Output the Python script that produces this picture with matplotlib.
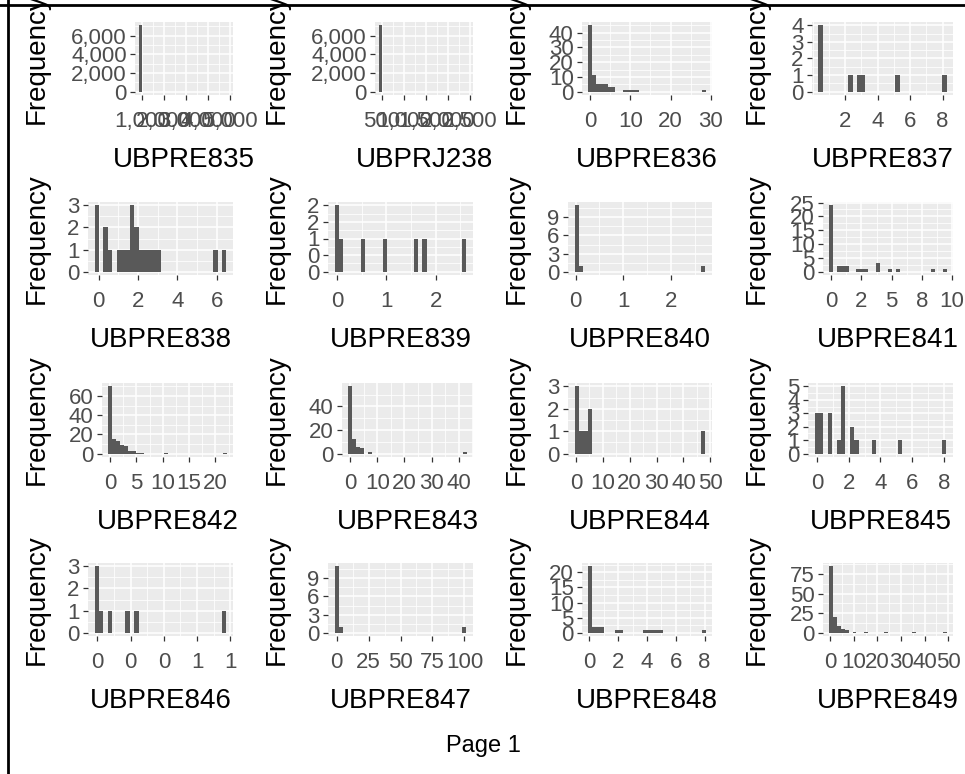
import numpy as np
import matplotlib
matplotlib.use("Agg")
import matplotlib.pyplot as plt
from matplotlib.lines import Line2D
from matplotlib.ticker import AutoMinorLocator

plt.rcParams['font.family'] = ['Liberation Sans', 'DejaVu Sans']

W, H = 965, 774

# variable names, one per panel (row by row)
names = ["UBPRE835", "UBPRJ238", "UBPRE836", "UBPRE837",
         "UBPRE838", "UBPRE839", "UBPRE840", "UBPRE841",
         "UBPRE842", "UBPRE843", "UBPRE844", "UBPRE845",
         "UBPRE846", "UBPRE847", "UBPRE848", "UBPRE849"]

# data range of each histogram (30 bins between lo and hi)
bin_lo = [880, 440, -0.5, 0.35,
          -0.2, -0.05, -0.02, -0.2,
          -0.4, -0.8, -0.5, -0.15,
          -0.02, -1.5, -0.1, -0.5]
bin_hi = [4930, 2465, 28.8, 8.25,
          6.5, 2.62, 2.72, 9.6,
          22.2, 43.1, 48.2, 8.16,
          0.97, 101.5, 8.1, 49.5]

# bin counts
c835 = [7100, 0, 0, 0, 0, 0, 0, 0, 0, 0, 0, 0, 0, 0, 0, 0, 0, 0, 0, 0, 0, 0, 0, 0, 0, 0, 0, 0, 0, 1]
c238 = [7100, 0, 0, 0, 0, 0, 0, 0, 0, 0, 0, 0, 0, 0, 0, 0, 0, 0, 0, 0, 0, 0, 0, 0, 0, 0, 0, 0, 0, 1]
c836 = [45, 11, 5, 5, 5, 3, 3, 0, 0, 1, 1, 1, 1, 0, 0, 0, 0, 0, 0, 0, 0, 0, 0, 0, 0, 0, 0, 0, 0, 1]
c837 = [4, 0, 0, 0, 0, 0, 0, 1, 0, 1, 1, 0, 0, 0, 0, 0, 0, 0, 1, 0, 0, 0, 0, 0, 0, 0, 0, 0, 0, 1]
c838 = [3, 0, 2, 1, 0, 1, 1, 1, 3, 2, 1, 1, 1, 1, 1, 0, 0, 0, 0, 0, 0, 0, 0, 0, 0, 0, 0, 1, 0, 1]
c839 = [2, 1, 0, 0, 0, 0, 1, 0, 0, 0, 0, 1, 0, 0, 0, 0, 0, 0, 1, 0, 1, 0, 0, 0, 0, 0, 0, 0, 0, 1]
c840 = [11, 1, 0, 0, 0, 0, 0, 0, 0, 0, 0, 0, 0, 0, 0, 0, 0, 0, 0, 0, 0, 0, 0, 0, 0, 0, 0, 0, 0, 1]
c841 = [24, 0, 2, 2, 2, 0, 0, 1, 1, 1, 0, 0, 3, 0, 0, 1, 0, 1, 0, 0, 0, 0, 0, 0, 0, 0, 1, 0, 0, 1]
c842 = [70, 15, 13, 9, 8, 3, 3, 1, 1, 0, 0, 0, 0, 0, 1, 0, 0, 0, 0, 0, 0, 0, 0, 0, 0, 0, 0, 0, 0, 1]
c843 = [57, 12, 6, 5, 0, 1, 0, 0, 0, 0, 0, 0, 0, 0, 0, 0, 0, 0, 0, 0, 0, 0, 0, 0, 0, 0, 0, 0, 0, 1]
c844 = [3, 1, 1, 2, 0, 0, 0, 0, 0, 0, 0, 0, 0, 0, 0, 0, 0, 0, 0, 0, 0, 0, 0, 0, 0, 0, 0, 0, 0, 1]
c845 = [3, 3, 0, 3, 0, 1, 5, 0, 2, 1, 0, 0, 0, 1, 0, 0, 0, 0, 0, 1, 0, 0, 0, 0, 0, 0, 0, 0, 0, 1]
c846 = [3, 1, 0, 1, 0, 0, 0, 1, 0, 1, 0, 0, 0, 0, 0, 0, 0, 0, 0, 0, 0, 0, 0, 0, 0, 0, 0, 0, 0, 1]
c847 = [11, 1, 0, 0, 0, 0, 0, 0, 0, 0, 0, 0, 0, 0, 0, 0, 0, 0, 0, 0, 0, 0, 0, 0, 0, 0, 0, 0, 0, 1]
c848 = [22, 2, 2, 2, 0, 0, 0, 1, 1, 0, 0, 0, 0, 0, 1, 1, 1, 1, 1, 0, 0, 0, 0, 0, 0, 0, 0, 0, 0, 1]
c849 = [85, 20, 8, 5, 3, 0, 1, 0, 0, 1, 0, 0, 0, 0, 1, 0, 0, 0, 0, 0, 0, 1, 0, 0, 0, 0, 0, 0, 0, 1]
counts = [c835, c238, c836, c837, c838, c839, c840, c841,
          c842, c843, c844, c845, c846, c847, c848, c849]

# axis breaks and their labels
xticks = [[1000, 2000, 3000, 4000, 5000], [500, 1000, 1500, 2000, 2500], [0, 10, 20, 30], [2, 4, 6, 8],
          [0, 2, 4, 6], [0, 1, 2], [0, 1, 2], [0, 2.5, 5, 7.5, 10],
          [0, 5, 10, 15, 20], [0, 10, 20, 30, 40], [0, 10, 20, 30, 40, 50], [0, 2, 4, 6, 8],
          [0, 0.25, 0.5, 0.75, 1.0], [0, 25, 50, 75, 100], [0, 2, 4, 6, 8], [0, 10, 20, 30, 40, 50]]
xlabels = [["1,000", "2,000", "3,000", "4,000", "5,000"], ["500", "1,000", "1,500", "2,000", "2,500"],
           ["0", "10", "20", "30"], ["2", "4", "6", "8"],
           ["0", "2", "4", "6"], ["0", "1", "2"], ["0", "1", "2"], ["0", "2", "5", "8", "10"],
           ["0", "5", "10", "15", "20"], ["0", "10", "20", "30", "40"], ["0", "10", "20", "30", "40", "50"],
           ["0", "2", "4", "6", "8"],
           ["0", "0", "0", "1", "1"], ["0", "25", "50", "75", "100"], ["0", "2", "4", "6", "8"],
           ["0", "10", "20", "30", "40", "50"]]
yticks = [[0, 2000, 4000, 6000], [0, 2000, 4000, 6000], [0, 10, 20, 30, 40], [0, 1, 2, 3, 4],
          [0, 1, 2, 3], [0, 0.5, 1, 1.5, 2], [0, 3, 6, 9], [0, 5, 10, 15, 20, 25],
          [0, 20, 40, 60], [0, 20, 40], [0, 1, 2, 3], [0, 1, 2, 3, 4, 5],
          [0, 1, 2, 3], [0, 3, 6, 9], [0, 5, 10, 15, 20], [0, 25, 50, 75]]
ylabels = [["0", "2,000", "4,000", "6,000"], ["0", "2,000", "4,000", "6,000"],
           ["0", "10", "20", "30", "40"], ["0", "1", "2", "3", "4"],
           ["0", "1", "2", "3"], ["0", "0", "1", "2", "2"], ["0", "3", "6", "9"],
           ["0", "5", "10", "15", "20", "25"],
           ["0", "20", "40", "60"], ["0", "20", "40"], ["0", "1", "2", "3"], ["0", "1", "2", "3", "4", "5"],
           ["0", "1", "2", "3"], ["0", "3", "6", "9"], ["0", "5", "10", "15", "20"], ["0", "25", "50", "75"]]

# panel geometry in pixels
cell_left = [10, 250, 490, 730]
row_top = [22, 202, 383, 563]
row_bot = [95, 275, 457, 636]
plot_left = [135, 375, 582, 812,
             88, 328, 568, 823,
             102, 342, 568, 808,
             88, 328, 582, 823]
plot_right = [233, 473, 712, 953]

fig = plt.figure(figsize=(W / 100, H / 100), dpi=100)

for i, name in enumerate(names):
    r, c = divmod(i, 4)
    x0, x1 = plot_left[i], plot_right[c]
    y0, y1 = row_top[r], row_bot[r]
    ax = fig.add_axes([x0 / W, 1 - y1 / H, (x1 - x0) / W, (y1 - y0) / H])
    ax.set_facecolor('#EBEBEB')

    lo, hi = bin_lo[i], bin_hi[i]
    edges = np.linspace(lo, hi, len(counts[i]) + 1)
    ax.bar(edges[:-1], counts[i], width=edges[1] - edges[0], align='edge',
           color='#595959', linewidth=0, zorder=3)

    span = hi - lo
    ax.set_xlim(lo - 0.05 * span, hi + 0.05 * span)
    top = max(counts[i])
    ax.set_ylim(-0.05 * top, 1.05 * top)

    ax.set_xticks(xticks[i])
    ax.set_xticklabels(xlabels[i])
    ax.set_yticks(yticks[i])
    ax.set_yticklabels(ylabels[i])
    ax.xaxis.set_minor_locator(AutoMinorLocator(2))
    ax.yaxis.set_minor_locator(AutoMinorLocator(2))
    ax.grid(which='major', color='white', linewidth=1.1, zorder=1)
    ax.grid(which='minor', color='white', linewidth=0.55, zorder=1)
    ax.set_axisbelow(True)
    for s in ax.spines.values():
        s.set_visible(False)
    ax.tick_params(which='major', length=3.5, width=0.9, color='#333333',
                   labelsize=16, labelcolor='#4D4D4D')
    ax.tick_params(axis='x', pad=8)
    ax.tick_params(axis='y', pad=2.5)
    ax.tick_params(which='minor', length=0)

    # axis titles
    fig.text((x0 + x1) / 2 / W, 1 - (y1 + 72) / H, name, ha='center', va='baseline',
             fontsize=20, color='black')
    fig.text((cell_left[c] + 27) / W, 1 - (y0 + y1) / 2 / H, "Frequency", rotation=90,
             ha='center', va='center', fontsize=20, color='black')

fig.text(483 / W, 1 - 752 / H, "Page 1", ha='center', va='baseline', fontsize=17, color='black')

# page border (left and top)
fig.add_artist(Line2D([8 / W, 8 / W], [0, 1], color='black', linewidth=2))
fig.add_artist(Line2D([0, 1], [1 - 5 / H, 1 - 5 / H], color='black', linewidth=2))

fig.savefig("out.png", dpi=100)
